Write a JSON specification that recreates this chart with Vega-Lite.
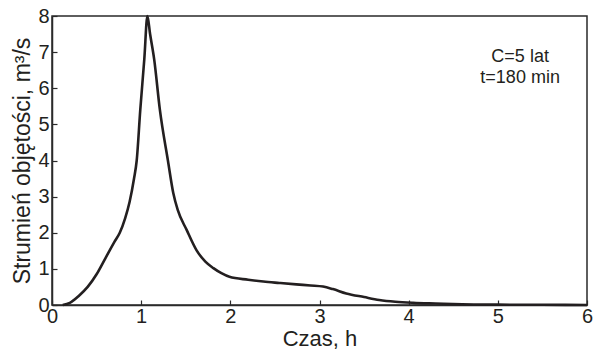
{
  "$schema": "https://vega.github.io/schema/vega-lite/v6.json",
  "width": 535,
  "height": 289,
  "autosize": {"type": "none"},
  "padding": {"left": 52, "top": 16, "right": 10, "bottom": 48},
  "background": "white",
  "view": {"stroke": "#2a2a2a", "strokeWidth": 1.5},
  "resolve": {"axis": {"x": "independent", "y": "independent"}},
  "layer": [
    {
      "data": {
        "values": [
          {"t": 0.12, "q": 0},
          {"t": 0.2, "q": 0.06},
          {"t": 0.3, "q": 0.25},
          {"t": 0.4, "q": 0.5},
          {"t": 0.5, "q": 0.85},
          {"t": 0.6, "q": 1.3},
          {"t": 0.7, "q": 1.75},
          {"t": 0.76, "q": 2.0},
          {"t": 0.82, "q": 2.4},
          {"t": 0.87, "q": 2.85},
          {"t": 0.92, "q": 3.5},
          {"t": 0.95, "q": 4.0},
          {"t": 0.99, "q": 5.4},
          {"t": 1.035, "q": 6.8},
          {"t": 1.07, "q": 8.0},
          {"t": 1.1, "q": 7.5},
          {"t": 1.146, "q": 6.8},
          {"t": 1.21, "q": 5.4},
          {"t": 1.3, "q": 4.0},
          {"t": 1.36, "q": 3.1},
          {"t": 1.41, "q": 2.63},
          {"t": 1.51, "q": 2.08},
          {"t": 1.62, "q": 1.52},
          {"t": 1.72, "q": 1.2},
          {"t": 1.81, "q": 1.02},
          {"t": 1.9, "q": 0.88},
          {"t": 1.99, "q": 0.78},
          {"t": 2.2, "q": 0.7},
          {"t": 2.37, "q": 0.65},
          {"t": 2.55, "q": 0.61},
          {"t": 2.74, "q": 0.57},
          {"t": 2.9, "q": 0.54},
          {"t": 3.04, "q": 0.51},
          {"t": 3.15, "q": 0.44},
          {"t": 3.3, "q": 0.32},
          {"t": 3.5, "q": 0.22},
          {"t": 3.67, "q": 0.14},
          {"t": 3.85, "q": 0.09},
          {"t": 4.05, "q": 0.06},
          {"t": 4.3, "q": 0.04},
          {"t": 4.6, "q": 0.02},
          {"t": 5.0, "q": 0.01},
          {"t": 5.5, "q": 0.005},
          {"t": 6.0, "q": 0.0}
        ]
      },
      "mark": {"type": "line", "color": "#231f20", "strokeWidth": 2.6, "interpolate": "monotone", "clip": false},
      "encoding": {
        "x": {
          "field": "t", "type": "quantitative",
          "scale": {"domain": [0, 6], "nice": false},
          "axis": {
            "values": [0, 1, 2, 3, 4, 5, 6], "format": "d", "title": "Czas, h",
            "grid": false, "domainColor": "#2a2a2a", "domainWidth": 1.5,
            "tickColor": "#2a2a2a", "tickWidth": 1.2, "tickSize": -5,
            "labelFont": "Liberation Sans", "labelFontSize": 20, "labelColor": "#231f20",
            "labelPadding": 6, "labelFlush": false, "labelOverlap": false,
            "titleFont": "Liberation Sans", "titleFontSize": 22, "titleFontWeight": "normal",
            "titleColor": "#231f20", "titlePadding": 2
          }
        },
        "y": {
          "field": "q", "type": "quantitative",
          "scale": {"domain": [0, 8], "nice": false},
          "axis": {
            "values": [0, 1, 2, 3, 4, 5, 6, 7, 8], "format": "d", "title": "Strumień objętości, m³/s",
            "grid": false, "domainColor": "#2a2a2a", "domainWidth": 1.5,
            "tickColor": "#2a2a2a", "tickWidth": 1.2, "tickSize": -5,
            "labelFont": "Liberation Sans", "labelFontSize": 20, "labelColor": "#231f20",
            "labelPadding": 8, "labelOverlap": false, "labelFlush": false,
            "titleFont": "Liberation Sans", "titleFontSize": 23, "titleFontWeight": "normal",
            "titleColor": "#231f20", "titlePadding": 3
          }
        }
      }
    },
    {
      "data": {"values": [{"label": "C=5 lat"}]},
      "mark": {"type": "text", "text": ["C=5 lat", "t=180 min"], "font": "Liberation Sans", "fontSize": 18, "lineHeight": 21, "color": "#231f20", "align": "center", "baseline": "middle"},
      "encoding": {
        "x": {"datum": 5.25, "type": "quantitative", "axis": null},
        "y": {"datum": 6.86, "type": "quantitative", "axis": null}
      }
    }
  ]
}
